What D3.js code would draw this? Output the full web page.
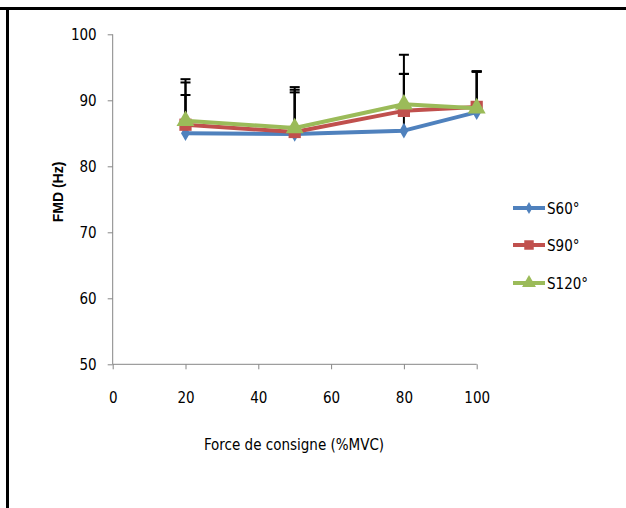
<!DOCTYPE html>
<html><head><meta charset="utf-8">
<script src="https://cdn.jsdelivr.net/npm/d3@7"></script>
<style>body{margin:0;background:#fff}svg{display:block}
.cf{font-family:'DejaVu Sans Condensed','DejaVu Sans',sans-serif;font-stretch:condensed}</style>
</head><body>
<svg id="c" width="626" height="508"></svg>
<script>
const forces = [20, 50, 80, 100];
const seriesNames = ["S60°", "S90°", "S120°"];
const s60 = [85.0, 84.9, 85.4, 88.2];
const s90 = [86.3, 85.2, 88.4, 89.0];
const s120 = [86.9, 85.8, 89.4, 88.8];
const s60Err = [5.8, 6.3, 8.6, 6.2];
const s90Err = [6.4, 6.4, 5.6, 5.3];
const s120Err = [6.3, 6.2, 7.5, 5.6];
const xTicks = [0, 20, 40, 60, 80, 100];
const yTicks = [50, 60, 70, 80, 90, 100];
const colors = ["#4F81BD", "#C0504D", "#9BBB59"];

const svg = d3.select("#c");
const fs = 15;
// frame
svg.append("line").attr("x1",0).attr("x2",626).attr("y1",8.5).attr("y2",8.5).attr("stroke","#000").attr("stroke-width",3);
svg.append("line").attr("x1",7.5).attr("x2",7.5).attr("y1",8).attr("y2",508).attr("stroke","#000").attr("stroke-width",3);

const x = d3.scaleLinear().domain([0,100]).range([112.7,476.7]);
const y = d3.scaleLinear().domain([50,100]).range([364.3,34.3]);

const gx = svg.append("g").attr("transform",`translate(0,${y(50)})`)
  .call(d3.axisBottom(x).tickValues(xTicks).tickSize(5).tickPadding(23));
const gy = svg.append("g").attr("transform",`translate(${x(0)},0)`)
  .call(d3.axisLeft(y).tickValues(yTicks).tickSize(5).tickPadding(11));
[gx,gy].forEach(g=>{
  g.selectAll("path,line").attr("stroke","#868686").attr("stroke-width",1);
  g.selectAll("text").attr("class","cf").attr("font-family",null).attr("font-size",fs).attr("fill","#000");
});
gx.select(".domain").remove();
gy.select(".domain").remove();
gx.append("line").attr("x1",x(0)).attr("x2",x(100)).attr("stroke","#868686");
gy.append("line").attr("y1",y(50)).attr("y2",y(100)).attr("stroke","#868686");

svg.append("text").attr("class","cf").attr("x",294).attr("y",450).attr("text-anchor","middle")
  .attr("font-size",15).text("Force de consigne (%MVC)");
svg.append("text").attr("transform","translate(63,192) rotate(-90)").attr("text-anchor","middle")
  .attr("font-family","'Liberation Sans', Arial, sans-serif").attr("font-weight","bold").attr("font-size",14).text("FMD (Hz)");

const all = [s60, s90, s120];
const errs = [s60Err, s90Err, s120Err];

// error bars
all.forEach((vals,si)=>{
  const g = svg.append("g");
  vals.forEach((v,i)=>{
    const cx = x(forces[i]);
    g.append("line").attr("x1",cx).attr("x2",cx).attr("y1",y(v)).attr("y2",y(v+errs[si][i])).attr("stroke","#000").attr("stroke-width",2);
    g.append("line").attr("x1",cx-5).attr("x2",cx+5).attr("y1",y(v+errs[si][i])).attr("y2",y(v+errs[si][i])).attr("stroke","#000").attr("stroke-width",2);
  });
});

const line = d3.line().x((d,i)=>x(forces[i])).y(d=>y(d));
const symbols = [d3.symbolDiamond, d3.symbolSquare, d3.symbolTriangle];
const sizes = [70, 150, 140];
all.forEach((vals,si)=>{
  svg.append("path").attr("d",line(vals)).attr("fill","none").attr("stroke",colors[si]).attr("stroke-width",4).attr("stroke-linejoin","round");
  svg.append("g").selectAll("path").data(vals).join("path")
    .attr("transform",(d,i)=>`translate(${x(forces[i])},${y(d)})`)
    .attr("d",d3.symbol().type(symbols[si]).size(sizes[si])).attr("fill",colors[si]);
});

// legend
const legY = [208, 245, 283];
seriesNames.forEach((n,si)=>{
  const g = svg.append("g").attr("transform",`translate(513,${legY[si]})`);
  g.append("line").attr("x1",0).attr("x2",32).attr("stroke",colors[si]).attr("stroke-width",4);
  g.append("path").attr("transform","translate(16,0)").attr("d",d3.symbol().type(symbols[si]).size(sizes[si]*0.6)).attr("fill",colors[si]);
  g.append("text").attr("class","cf").attr("x",34).attr("y",6).attr("font-size",fs).text(n);
});
</script>
</body></html>
